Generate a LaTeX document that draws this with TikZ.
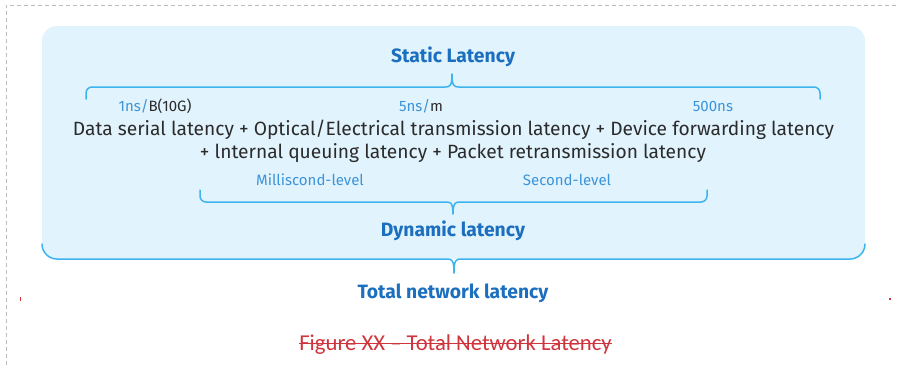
\documentclass[tikz,border=0pt]{standalone}
\usepackage{fontspec}
\setmainfont{Fira Sans}
\newfontfamily\capfont{Carlito}
\definecolor{boxfill}{HTML}{E1F3FD}
\definecolor{bracecol}{HTML}{3DB4F0}
\definecolor{headblue}{HTML}{1B6FBE}
\definecolor{lblue}{HTML}{3B94D9}
\definecolor{bodytext}{HTML}{2B2B2B}
\definecolor{framegray}{HTML}{BDBDBD}
\definecolor{capred}{HTML}{D0343C}
\tikzset{
  heading/.style={anchor=base, inner sep=0pt, text=headblue, font=\fontsize{19.3}{23}\selectfont\bfseries},
  body/.style={anchor=base, inner sep=0pt, text=bodytext, font=\fontsize{19.2}{23}\selectfont},
  note/.style={anchor=base, inner sep=0pt, text=lblue, font=\fontsize{15}{18}\selectfont},
  bracket/.style={draw=bracecol, line width=1.5pt, line cap=round, line join=round},
  frame/.style={draw=framegray, line width=0.8pt, dash pattern=on 4pt off 3pt},
}
\begin{document}
\begin{tikzpicture}[x=1pt, y=-1pt]
\useasboundingbox (0,0) rectangle (897,365);

% outer dashed frame (top and left edges)
\draw[frame] (6,365) -- (6,5) -- (897,5);

% light blue panel
\fill[boxfill, rounded corners=15pt] (42,26) rectangle (865,259);

% static latency brace (tip up)
\draw[bracket] (86,99) -- (86,93) .. controls (86,89.7) and (88.7,87) .. (92,87)
  -- (445,87) .. controls (450,87) and (452,86) .. (452,74)
  .. controls (452,86) and (454,87) .. (459,87)
  -- (814,87) .. controls (817.3,87) and (820,89.7) .. (820,93) -- (820,99);

% dynamic latency brace (tip down)
\draw[bracket] (200,190) -- (200,196) .. controls (200,199.3) and (202.7,202) .. (206,202)
  -- (446,202) .. controls (451,202) and (453,203) .. (453,214)
  .. controls (453,203) and (455,202) .. (460,202)
  -- (701,202) .. controls (704.3,202) and (707,199.3) .. (707,196) -- (707,190);

% panel bottom edge doubles as the total-latency brace
\draw[bracket] (42,244) .. controls (42,252.3) and (48.7,259) .. (57,259)
  -- (447,259) .. controls (452,259) and (454,260) .. (454,273)
  .. controls (454,260) and (456,259) .. (461,259)
  -- (850,259) .. controls (858.3,259) and (865,252.3) .. (865,244);

% headings
\node[heading] (static) at (453,62.5) {Static Latency};
\node[heading] (dynamic) at (453,236) {Dynamic latency};
\node[heading] (total) at (453,298) {Total network latency};

% per-term figures
\node[note] (serial) at (155,111) {1ns/\textcolor{bodytext}{B(10G)}};
\node[note] (optical) at (421,111) {5ns/\textcolor{bodytext}{m}};
\node[note] (device) at (713,111) {500ns};
\node[note] (queue) at (310,185) {Milliscond-level};
\node[note] (retrans) at (567,185) {Second-level};

% latency formula
\node[body] (line1) at (453.5,135) {Data serial latency + Optical/Electrical transmission latency + Device forwarding latency};
\node[body] (line2) at (453,158) {+ lnternal queuing latency + Packet retransmission latency};

% caption, struck through
\node[anchor=base, inner sep=0pt, text=capred, font=\capfont\fontsize{22.7}{26}\selectfont] (cap) at (455.5,350) {Figure XX – Total Network Latency};
\draw[capred, line width=1.4pt] (cap.base west) ++(0,-6.5) coordinate (s0) -- (s0 -| cap.base east);

% small red margin marks
\fill[capred] (19.6,297) rectangle (20.8,301);
\fill[capred] (889,298) rectangle (891,300);
\end{tikzpicture}
\end{document}
